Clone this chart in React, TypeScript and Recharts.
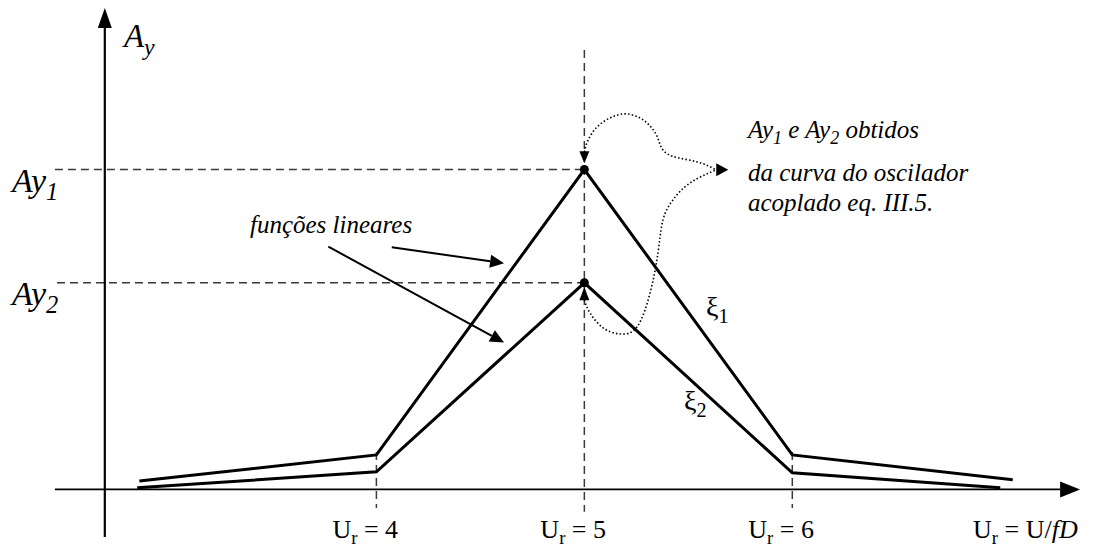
import { LineChart, Line, XAxis, YAxis, ReferenceLine, ReferenceDot } from "recharts";

const W = 1098;
const H = 547;

// frame of the sketch, in (Ur, Ay) units
const UR_MIN = 2.19;
const UR_MAX = 7.47;
const AY_MIN = -0.18;
const AY_MAX = 1.53;

// the two piecewise linear amplitude models
const xi1Ur = [2.86, 4, 5, 6, 7.06];
const xi1Ay = [0.026, 0.108, 1.0, 0.108, 0.03];
const xi2Ur = [2.85, 4, 5, 6, 7.0];
const xi2Ay = [0.005, 0.055, 0.646, 0.052, 0.005];

const PEAK = 2;
const UR_PEAK = xi1Ur[PEAK];
const AY1 = xi1Ay[PEAK];
const AY2 = xi2Ay[PEAK];

const urTicks = [4, 5, 6];
const urTickLabels = ["4", "5", "6"];

// dotted links from Ay1 / Ay2 to the note
const linkAUr = [5.0, 5.018, 5.061, 5.123, 5.196, 5.268, 5.316, 5.349, 5.369, 5.422, 5.542, 5.633];
const linkAAy = [1.055, 1.092, 1.133, 1.161, 1.174, 1.161, 1.136, 1.105, 1.071, 1.042, 1.024, 0.999];
const linkBUr = [5.0, 5.027, 5.09, 5.172, 5.253, 5.316, 5.354, 5.378, 5.426, 5.508, 5.633];
const linkBAy = [0.592, 0.552, 0.505, 0.486, 0.508, 0.614, 0.739, 0.842, 0.905, 0.958, 0.999];

const toPts = (ur: number[], ay: number[]) => ur.map((u, i) => ({ ur: u, ay: ay[i] }));
const xi1 = toPts(xi1Ur, xi1Ay);
const xi2 = toPts(xi2Ur, xi2Ay);
const linkA = toPts(linkAUr, linkAAy);
const linkB = toPts(linkBUr, linkBAy);

const SERIF = "'Liberation Serif', 'Times New Roman', serif";

type Piece = { t: string; sub?: boolean; it?: boolean };

function rich(x: number, y: number, size: number, italic: boolean, parts: Piece[]) {
  let shift = 0;
  return (
    <text
      x={x}
      y={y}
      fill="#000"
      style={{ fontFamily: SERIF, fontSize: size, fontStyle: italic ? "italic" : "normal", whiteSpace: "pre" }}
    >
      {parts.map((p, i) => {
        const target = p.sub ? size * 0.24 : 0;
        const dy = target - shift;
        shift = target;
        const st: React.CSSProperties = { fontSize: p.sub ? size * 0.72 : size };
        if (p.it !== undefined) st.fontStyle = p.it ? "italic" : "normal";
        return (
          <tspan key={i} dy={dy} style={st}>
            {p.t}
          </tspan>
        );
      })}
    </text>
  );
}

// text anchored at a point in data space
function note(key: string, ur: number, ay: number, size: number, italic: boolean, parts: Piece[], dx = 0, dy = 0) {
  return (
    <ReferenceDot
      key={key}
      x={ur}
      y={ay}
      r={0}
      shape={(p: any) => rich(p.cx + dx, p.cy + dy, size, italic, parts)}
    />
  );
}

// straight line with a filled head at its second point
function arrow(len: number, half: number, withLine = true) {
  return (p: any) => {
    const { x1, y1, x2, y2 } = p;
    const a = Math.atan2(y2 - y1, x2 - x1);
    const bx = x2 - len * Math.cos(a);
    const by = y2 - len * Math.sin(a);
    const nx = -Math.sin(a) * half;
    const ny = Math.cos(a) * half;
    return (
      <g>
        {withLine && <line x1={x1} y1={y1} x2={bx} y2={by} stroke="#000" strokeWidth={p.strokeWidth} />}
        <polygon points={`${x2},${y2} ${bx + nx},${by + ny} ${bx - nx},${by - ny}`} fill="#000" />
      </g>
    );
  };
}

const dashed = { stroke: "#3a3a3a", strokeWidth: 1.5, strokeDasharray: "8 5" };

export default function App() {
  return (
    <div style={{ position: "absolute", left: 0, top: 0, width: W, height: H, background: "#fff" }}>
      <LineChart width={W} height={H} margin={{ top: 0, right: 0, bottom: 0, left: 0 }}>
        <XAxis type="number" dataKey="ur" domain={[UR_MIN, UR_MAX]} allowDataOverflow hide />
        <YAxis type="number" dataKey="ay" domain={[AY_MIN, AY_MAX]} allowDataOverflow hide />

        {/* guides */}
        <ReferenceLine segment={[{ x: 2.454, y: AY1 }, { x: UR_PEAK, y: AY1 }]} {...dashed} />
        <ReferenceLine segment={[{ x: 2.464, y: AY2 }, { x: UR_PEAK, y: AY2 }]} {...dashed} />
        <ReferenceLine segment={[{ x: 4, y: 0.117 }, { x: 4, y: -0.058 }]} {...dashed} />
        <ReferenceLine segment={[{ x: 5, y: 1.374 }, { x: 5, y: -0.07 }]} {...dashed} />
        <ReferenceLine segment={[{ x: 6, y: 0.117 }, { x: 6, y: -0.058 }]} {...dashed} />

        {/* axes */}
        <ReferenceLine segment={[{ x: 2.694, y: -0.149 }, { x: 2.694, y: 1.505 }]} strokeWidth={2.2} shape={arrow(20, 7)} />
        <ReferenceLine segment={[{ x: 2.454, y: 0 }, { x: 7.384, y: 0 }]} strokeWidth={1.6} shape={arrow(20, 8)} />

        <Line data={xi1} dataKey="ay" type="linear" stroke="#000" strokeWidth={3} dot={false} activeDot={false} isAnimationActive={false} />
        <Line data={xi2} dataKey="ay" type="linear" stroke="#000" strokeWidth={3} dot={false} activeDot={false} isAnimationActive={false} />

        <Line data={linkA} dataKey="ay" type="natural" stroke="#000" strokeWidth={1.6} strokeDasharray="1.5 2.2" dot={false} activeDot={false} isAnimationActive={false} />
        <Line data={linkB} dataKey="ay" type="natural" stroke="#000" strokeWidth={1.6} strokeDasharray="1.5 2.2" dot={false} activeDot={false} isAnimationActive={false} />

        <ReferenceDot x={UR_PEAK} y={AY1} r={4.5} fill="#000" stroke="none" />
        <ReferenceDot x={UR_PEAK} y={AY2} r={4.5} fill="#000" stroke="none" />

        {/* arrow heads of the dotted links */}
        <ReferenceLine segment={[{ x: 5, y: 1.056 }, { x: 5, y: 1.02 }]} shape={arrow(12, 5, false)} />
        <ReferenceLine segment={[{ x: 5, y: 0.592 }, { x: 5, y: 0.632 }]} shape={arrow(13, 5, false)} />
        <ReferenceLine segment={[{ x: 5.633, y: 0.999 }, { x: 5.692, y: 0.999 }]} shape={arrow(12, 6.5, false)} />

        {/* pointers for "funções lineares" */}
        <ReferenceLine segment={[{ x: 4.074, y: 0.757 }, { x: 4.614, y: 0.707 }]} strokeWidth={2} shape={arrow(14, 6.5)} />
        <ReferenceLine segment={[{ x: 3.769, y: 0.759 }, { x: 4.614, y: 0.459 }]} strokeWidth={2} shape={arrow(14, 6.5)} />

        {note("title", 2.786, 1.383, 33, true, [{ t: "A" }, { t: "y", sub: true }])}
        {note("ay1", 2.248, AY1, 34, true, [{ t: "Ay" }, { t: "1", sub: true }], 0, 22.5)}
        {note("ay2", 2.248, AY2, 34, true, [{ t: "Ay" }, { t: "2", sub: true }], 0, 22)}
        {note("lin", 3.392, 0.8016, 25, true, [{ t: "funções lineares" }])}
        {note("n1", 5.787, 1.0986, 25, true, [{ t: "Ay" }, { t: "1", sub: true }, { t: " e Ay" }, { t: "2", sub: true }, { t: " obtidos" }])}
        {note("n2", 5.787, 0.9642, 25, true, [{ t: "da curva do oscilador" }])}
        {note("n3", 5.787, 0.8704, 25, true, [{ t: "acoplado eq. III.5." }])}
        {note("xi1", 5.585, 0.542, 28, false, [{ t: "ξ" }, { t: "1", sub: true }])}
        {note("xi2", 5.479, 0.248, 28, false, [{ t: "ξ" }, { t: "2", sub: true }])}

        {urTicks.map((v, i) =>
          note(`tick${v}`, v, -0.152, 26, false, [{ t: "U" }, { t: "r", sub: true }, { t: ` = ${urTickLabels[i]}` }], -44)
        )}
        {note("xtitle", 6.869, -0.152, 26, false, [{ t: "U" }, { t: "r", sub: true }, { t: " = U/" }, { t: "fD", it: true }])}
      </LineChart>
    </div>
  );
}
